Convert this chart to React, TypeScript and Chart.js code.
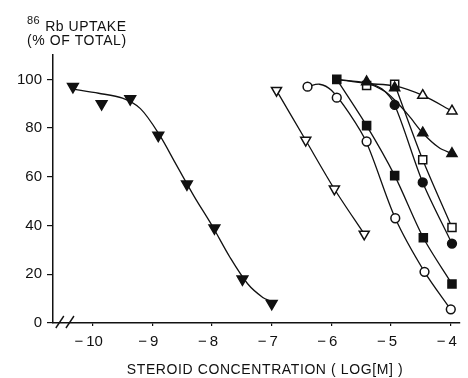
import React, { useEffect, useRef } from "react";
import { Chart, registerables } from "chart.js";

Chart.register(...registerables);

// Tick values
const xTicks = [-10, -9, -8, -7, -6, -5, -4];
const yTicks = [0, 20, 40, 60, 80, 100];

// ▼ filled down-triangle
const downFilledX = [-10.33, -9.85, -9.37, -8.9, -8.42, -7.96, -7.49, -7.0];
const downFilledY = [97, 90, 92, 77, 57, 39, 18, 8];
const downFilledCurveX = [-10.33, -9.9, -9.5, -9.2, -8.9, -8.6, -8.3, -8.0, -7.7, -7.4, -7.15, -7.0];
const downFilledCurveY = [96, 94.3, 92.3, 88, 78, 65, 52, 40, 27, 16, 10.5, 8.8];

// ▽ open down-triangle
const downOpenX = [-6.92, -6.43, -5.95, -5.45];
const downOpenY = [95.5, 75, 55, 36.5];

// ○ open circle
const circOpenX = [-6.4, -5.91, -5.41, -4.93, -4.44, -4.0];
const circOpenY = [97, 92.5, 74.5, 43, 21, 5.6];
const circOpenCurveX = [-6.4, -6.2, -6.0, -5.7, -5.41, -4.93, -4.44, -4.0];
const circOpenCurveY = [97, 98, 95.5, 86, 74, 43, 21, 5.5];

// ■ filled square
const sqFilledX = [-5.91, -5.41, -4.94, -4.46, -3.98];
const sqFilledY = [100, 81, 60.5, 35, 16];

// ▲ filled up-triangle
const upFilledX = [-5.41, -4.94, -4.47, -3.98];
const upFilledY = [99, 96.5, 78, 69.5];
const upFilledCurveX = [-5.91, -5.41, -5.1, -4.94, -4.7, -4.47, -4.2, -3.98];
const upFilledCurveY = [100, 98.5, 95, 91.5, 85, 78, 72, 69.5];

// △ open up-triangle
const upOpenX = [-4.47, -3.98];
const upOpenY = [93.4, 87];
const upOpenCurveX = [-5.91, -5.41, -4.94, -4.47, -3.98];
const upOpenCurveY = [100, 98.3, 97.3, 93.4, 87];

// □ open square
const sqOpenX = [-5.41, -4.94, -4.47, -3.98];
const sqOpenY = [97.5, 98, 67, 39.2];
const sqOpenCurveX = [-4.94, -4.47, -3.98];
const sqOpenCurveY = [98, 67, 39.2];

// ● filled circle
const circFilledX = [-4.94, -4.47, -3.98];
const circFilledY = [89.5, 57.7, 32.6];
const circFilledCurveX = [-5.41, -5.15, -4.94, -4.47, -3.98];
const circFilledCurveY = [99, 96, 89.5, 57.7, 32.6];

const INK = "#111";

const pts = (xs: number[], ys: number[]) => xs.map((x, i) => ({ x, y: ys[i] }));

const markers = (
  xs: number[],
  ys: number[],
  style: string,
  filled: boolean,
  radius: number,
  rotation = 0
) => ({
  data: pts(xs, ys),
  showLine: false,
  pointStyle: style,
  pointRotation: rotation,
  pointRadius: radius,
  pointBackgroundColor: filled ? INK : "#fff",
  pointBorderColor: INK,
  pointBorderWidth: 1.5,
});

const curve = (xs: number[], ys: number[]) => ({
  data: pts(xs, ys),
  showLine: true,
  pointRadius: 0,
  borderColor: INK,
  borderWidth: 1.3,
  tension: 0.3,
  fill: false,
});

const breakPlugin = {
  id: "axisBreak",
  afterDraw(chart: any) {
    const ctx = chart.ctx;
    const xs = chart.scales.x;
    const ys = chart.scales.y;
    const y0 = ys.getPixelForValue(0);
    ctx.save();
    ctx.strokeStyle = INK;
    ctx.lineWidth = 1.4;
    [-10.55, -10.38].forEach((v) => {
      const px = xs.getPixelForValue(v);
      ctx.beginPath();
      ctx.moveTo(px - 4, y0 + 5);
      ctx.lineTo(px + 4, y0 - 7);
      ctx.stroke();
    });
    ctx.restore();
  },
};

export default function App() {
  const ref = useRef<HTMLCanvasElement | null>(null);

  useEffect(() => {
    document.body.style.margin = "0";
    const canvas = ref.current;
    if (!canvas) return;
    const font = { family: "'Liberation Sans', Arial, sans-serif", size: 15 };
    const chart = new Chart(canvas, {
      type: "scatter",
      data: {
        datasets: [
          markers(sqFilledX, sqFilledY, "rect", true, 5.7),
          markers(upFilledX, upFilledY, "triangle", true, 5.8),
          markers(sqOpenX, sqOpenY, "rect", false, 5.7),
          markers(upOpenX, upOpenY, "triangle", false, 5.8),
          markers(circFilledX, circFilledY, "circle", true, 4.4),
          markers(circOpenX, circOpenY, "circle", false, 4.4),
          markers(downOpenX, downOpenY, "triangle", false, 5.8, 180),
          markers(downFilledX, downFilledY, "triangle", true, 6.2, 180),
          curve(downFilledCurveX, downFilledCurveY),
          curve(downOpenX, downOpenY),
          curve(circOpenCurveX, circOpenCurveY),
          curve(sqFilledX, sqFilledY),
          curve(upFilledCurveX, upFilledCurveY),
          curve(upOpenCurveX, upOpenCurveY),
          curve(sqOpenCurveX, sqOpenCurveY),
          curve(circFilledCurveX, circFilledCurveY),
        ] as any,
      },
      options: {
        responsive: false,
        animation: false,
        layout: { padding: { top: 55, right: 2, left: 0, bottom: 0 } },
        plugins: {
          legend: { display: false },
          tooltip: { enabled: false },
          title: { display: false },
        },
        scales: {
          x: {
            type: "linear",
            min: -10.664,
            max: -3.857,
            afterBuildTicks: (s: any) => {
              s.ticks = xTicks.map((v) => ({ value: v }));
            },
            afterFit: (s: any) => {
              s.height = 55;
            },
            ticks: {
              color: INK,
              font,
              padding: 7,
              labelOffset: -4,
              autoSkip: false,
              maxRotation: 0,
              callback: (v: any) => "\u2212\u2009" + Math.abs(Number(v)),
            },
            grid: { drawOnChartArea: false, drawTicks: true, tickLength: 3, color: INK, lineWidth: 1.2 },
            border: { display: true, color: INK, width: 1.5 },
          },
          y: {
            type: "linear",
            min: 0,
            max: 110,
            afterBuildTicks: (s: any) => {
              s.ticks = yTicks.map((v) => ({ value: v }));
            },
            afterFit: (s: any) => {
              s.width = 53;
            },
            ticks: { color: INK, font, padding: 5 },
            grid: { drawOnChartArea: false, drawTicks: true, tickLength: 6, color: INK, lineWidth: 1.2 },
            border: { display: true, color: INK, width: 1.5 },
          },
        },
      },
      plugins: [breakPlugin],
    });
    return () => chart.destroy();
  }, []);

  const textFont = "'Liberation Sans', Arial, sans-serif";
  return (
    <div style={{ position: "fixed", left: 0, top: 0, width: 468, height: 378, background: "#fff" }}>
      <canvas ref={ref} width={468} height={378} style={{ position: "absolute", left: 0, top: 0 }} />
      <div style={{ position: "absolute", left: 27, top: 13, font: `14px ${textFont}`, color: INK, whiteSpace: "nowrap", lineHeight: "16px", letterSpacing: 0.5 }}>
        <sup style={{ fontSize: 11, position: "relative", top: -1 }}>86</sup>
        <span style={{ marginLeft: 5 }}>Rb UPTAKE</span>
      </div>
      <div style={{ position: "absolute", left: 27, top: 32, font: `14px ${textFont}`, color: INK, whiteSpace: "nowrap", lineHeight: "16px", letterSpacing: 0.6 }}>
        (% OF TOTAL)
      </div>
      <div style={{ position: "absolute", left: 115, top: 361, width: 300, textAlign: "center", font: `14px ${textFont}`, color: INK, whiteSpace: "nowrap", lineHeight: "16px", letterSpacing: 0.6 }}>
        STEROID CONCENTRATION ( LOG[M] )
      </div>
    </div>
  );
}
